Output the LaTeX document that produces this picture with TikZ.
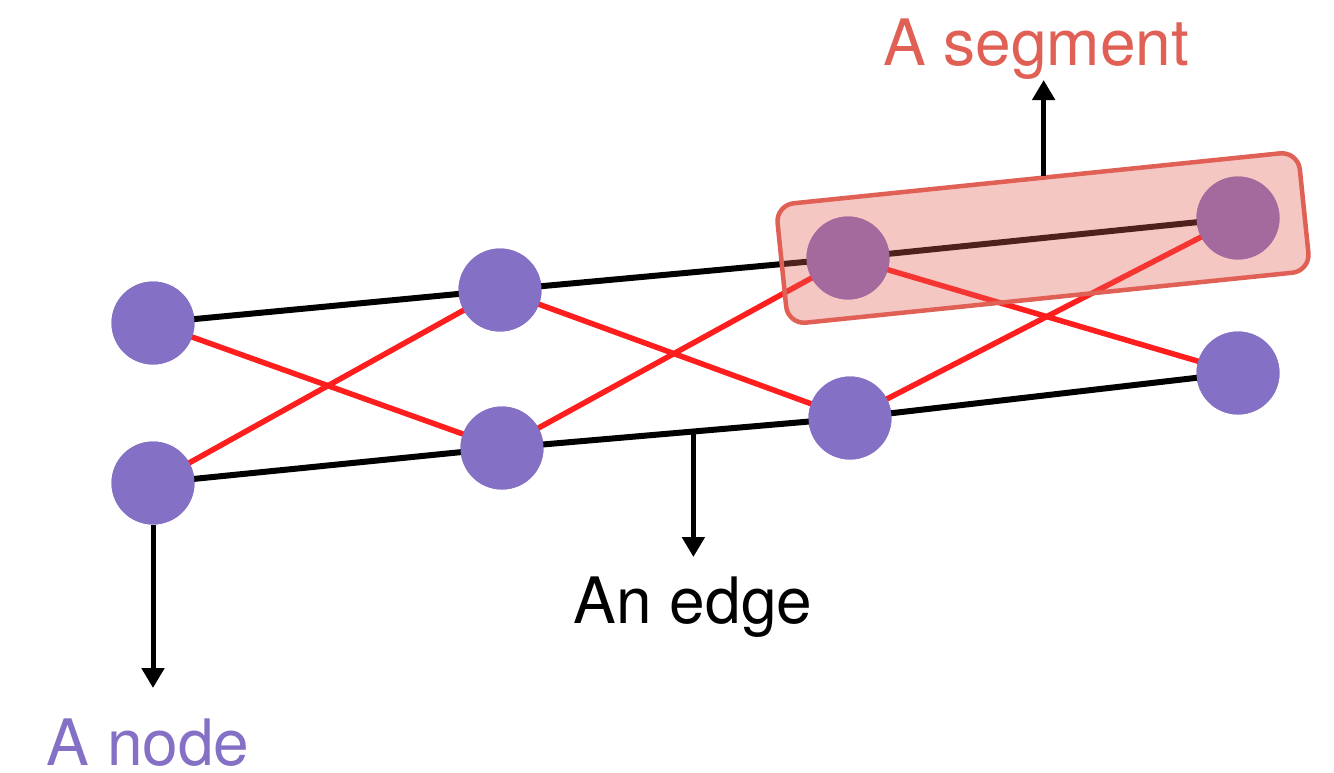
\documentclass[tikz,border=0pt]{standalone}
\usepackage{fontspec}
\setmainfont{TeX Gyre Heros}
\usetikzlibrary{arrows.meta,calc}
\definecolor{nodepurple}{HTML}{8470C4}
\definecolor{segred}{HTML}{E06055}
\definecolor{edgered}{HTML}{FF1E1E}
\tikzset{
  gnode/.style={circle,fill=nodepurple,inner sep=0pt,minimum size=83pt},
  blackedge/.style={draw=black,line width=6pt},
  rededge/.style={draw=edgered,line width=5.5pt},
  pointer/.style={draw=black,line width=5pt,-{Triangle[width=22pt,length=20pt]}},
  lbl/.style={font=\fontsize{64}{70}\selectfont,inner sep=0pt,anchor=base},
}
\begin{document}
\begin{tikzpicture}[x=1pt,y=-1pt]
\useasboundingbox (0,0) rectangle (1334,772);
\fill[white] (0,0) rectangle (1334,772);
% node positions
\node[gnode] (a1) at (153,323) {};
\node[gnode] (b1) at (153,483) {};
\node[gnode] (a2) at (500,290) {};
\node[gnode] (b2) at (502,448) {};
\node[gnode] (a3) at (848,258) {};
\node[gnode] (b3) at (850,418) {};
\node[gnode] (a4) at (1238,218) {};
\node[gnode] (b4) at (1238,373) {};
% edges
\path[blackedge] (a1.center) -- (a2.center) -- (a3.center) -- (a4.center);
\path[blackedge] (b1.center) -- (b2.center) -- (b3.center) -- (b4.center);
\path[rededge] (a1.center) -- (b2.center);
\path[rededge] (b1.center) -- (a2.center);
\path[rededge] (a2.center) -- (b3.center);
\path[rededge] (b2.center) -- (a3.center);
\path[rededge] (a3.center) -- (b4.center);
\path[rededge] (b3.center) -- (a4.center);
% redraw nodes on top of edges
\foreach \n in {a1,b1,a2,b2,a3,b3,a4,b4}{\fill[nodepurple] (\n) circle (41.5pt);}
% segment box
\node[draw=segred,line width=4.5pt,fill=segred,fill opacity=0.35,
      rounded corners=18pt,minimum width=525pt,minimum height=120pt,
      rotate=5.86,inner sep=0pt] (seg) at ($(a3)!0.5!(a4)$) {};
% pointers
\path (b2.center) -- (b3.center) coordinate[pos=0.55] (eb);
\coordinate (edgetip) at (693,557);
\coordinate (nodetip) at (153,688);
\coordinate (segstart) at ([xshift=7pt]seg.north);
\coordinate (segtip) at (1044,80);
\draw[pointer] (b1.south) -- (nodetip);
\draw[pointer] (eb) -- (eb |- edgetip);
\draw[pointer] (segstart) -- (segstart |- segtip);
% labels
\node[lbl,text=nodepurple] (tnode) at (148,765) {A node};
\node[lbl,text=black] (tedge) at (693,623) {An edge};
\node[lbl,text=segred] (tseg) at (1036,65) {A segment};
\end{tikzpicture}
\end{document}
